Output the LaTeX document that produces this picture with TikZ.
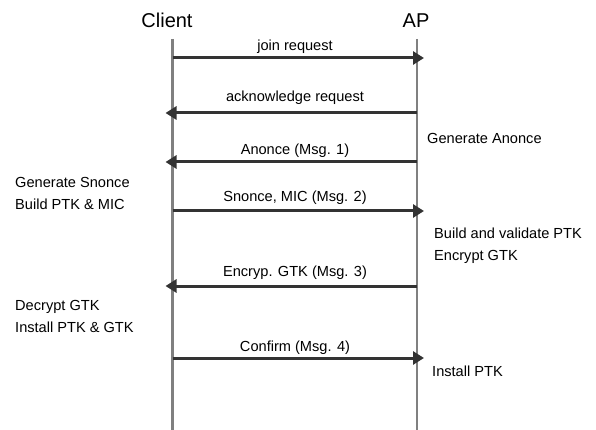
\documentclass[tikz,border=0pt]{standalone}
\usepackage{fontspec}
\setmainfont{Liberation Sans}
\usetikzlibrary{arrows.meta}
\tikzset{
	lifeline/.style={draw=black!50, line width=2.4pt},
	msg/.style={draw=black!80, line width=3pt, -{Triangle[length=11pt,width=13pt]}, shorten >=-7pt},
	msglabel/.style={anchor=base, inner sep=0pt, font=\fontsize{14.6}{16}\selectfont},
	note/.style={anchor=base west, inner sep=0pt, font=\fontsize{14.6}{16}\selectfont},
	title/.style={anchor=base, inner sep=0pt, font=\fontsize{20}{24}\selectfont},
}
\begin{document}
\begin{tikzpicture}[
		x=1pt,
		y=-1pt,
	]
		\useasboundingbox (0,0) rectangle (596,430);
		
		% the two parties
		\node[title] (client) at (167,28) {Client};
		\node[title] (ap) at (416,28) {AP};
		\coordinate (ctop) at (172.5,39);
		\coordinate (cbot) at (172.5,430);
		\coordinate (atop) at (417,39);
		\coordinate (abot) at (417,430);
		\draw[lifeline] (ctop) -- (cbot);
		\draw[lifeline] (atop) -- (abot);
		
		% messages
		\foreach \n/\y/\ly/\from/\to/\txt in {1/58/51/c/a/join request, 2/113/102/a/c/acknowledge request, 3/162/155/a/c/Anonce (Msg. 1), 4/211/202/c/a/{Snonce, MIC (Msg. 2)}, 5/286/276/a/c/Encryp. GTK (Msg. 3), 6/358/351/c/a/Confirm (Msg. 4)}{
			\coordinate (c\n) at (172.5,\y);
			\coordinate (a\n) at (417,\y);
			\draw[msg] (\from\n) -- (\to\n);
			\node[msglabel] (m\n) at (295,\ly) {\txt};
		}
		
		% what each side does
		\node[note] (genA) at (427,144) {Generate Anonce};
		\node[note] (genS) at (15,188) {Generate Snonce};
		\node[note] (buildC) at (15,210) {Build PTK \& MIC};
		\node[note] (buildA) at (434,238) {Build and validate PTK};
		\node[note] (encA) at (434,260) {Encrypt GTK};
		\node[note] (decC) at (15,310) {Decrypt GTK};
		\node[note] (instC) at (15,332) {Install PTK \& GTK};
		\node[note] (instA) at (432,376) {Install PTK};
	\end{tikzpicture}
\end{document}
